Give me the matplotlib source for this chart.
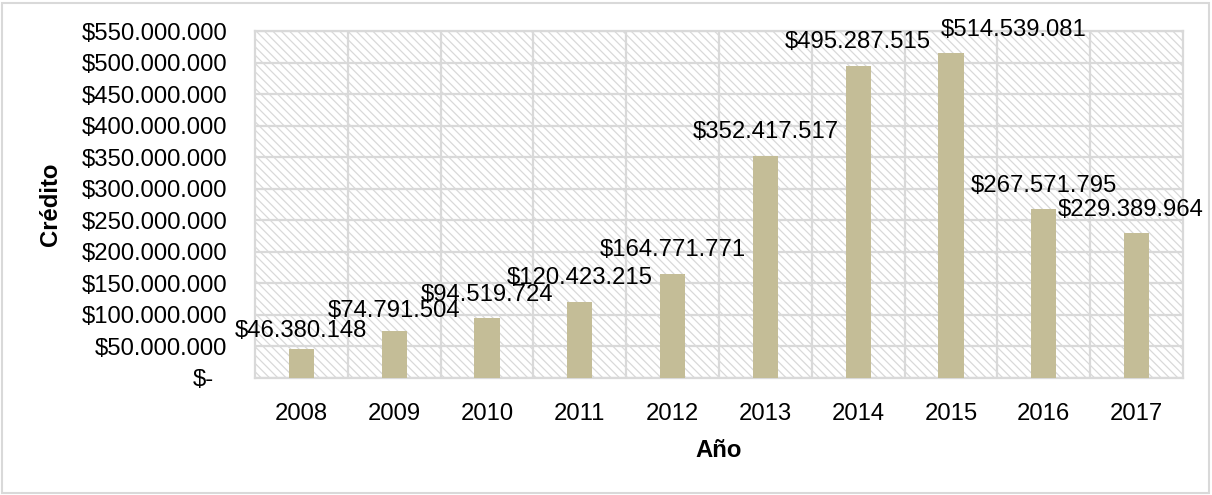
import matplotlib.pyplot as plt
import matplotlib.patches as mpatches
from matplotlib.ticker import FuncFormatter

plt.rcParams['font.family'] = ['Liberation Sans', 'DejaVu Sans']
plt.rcParams['hatch.color'] = '#dcdcdc'
plt.rcParams['hatch.linewidth'] = 0.9

# data
years = ['2008', '2009', '2010', '2011', '2012', '2013', '2014', '2015', '2016', '2017']
credito = [46380148, 74791504, 94519724, 120423215, 164771771,
           352417517, 495287515, 514539081, 267571795, 229389964]
y_ticks = list(range(0, 550000001, 50000000))

# hand-moved data labels in the original (offsets in points)
label_dx = [0, 0, 0, 0, 0, 0, 0, 45, 0, -4]
label_dy = [-4, -3, 0, 0, 0, 0, 0, 0, 0, 0]

grid_col = '#d9d9d9'
bar_col = '#c4bd97'
fs = 17.2


def money(v, pos=None):
    # Excel accounting style: dots as thousands separator, "$-" for zero
    if v == 0:
        return '$-'
    return '$' + '{:,.0f}'.format(v).replace(',', '.')


fig = plt.figure(figsize=(12.12, 4.95), dpi=100)
ax = fig.add_axes([255 / 1212, 1 - 378 / 495, 928 / 1212, 347 / 495])

# hatched plot area background
bg = mpatches.Rectangle((0, 0), 1, 1, transform=ax.transAxes, facecolor='white',
                        edgecolor=grid_col, hatch='\\\\\\\\', linewidth=0, zorder=0)
ax.add_patch(bg)
ax.set_facecolor('white')

xpos = list(range(len(years)))
ax.bar(xpos, credito, width=0.27, color=bar_col, zorder=3)

# data labels, centred about 24 px above each bar
for x, v, dx, dy in zip(xpos, credito, label_dx, label_dy):
    ax.annotate(money(v), (x, v), xytext=(dx, 17 + dy), textcoords='offset points',
                ha='center', va='center', fontsize=fs, zorder=4)

ax.set_xlim(-0.5, len(years) - 0.5)
ax.set_ylim(0, 550000000)
ax.set_yticks(y_ticks)
ax.yaxis.set_major_formatter(FuncFormatter(money))
ax.set_xticks(xpos)
ax.set_xticklabels(years)
ax.set_xticks([i + 0.5 for i in xpos[:-1]], minor=True)

ax.grid(axis='y', which='major', color=grid_col, linewidth=1.6, zorder=1)
ax.grid(axis='x', which='minor', color=grid_col, linewidth=1.6, zorder=1)
ax.set_axisbelow(True)

ax.tick_params(axis='both', which='both', length=0, labelsize=fs)
ax.tick_params(axis='y', pad=20)
ax.tick_params(axis='x', pad=18)
# "$-" sits a bit left of the other amounts, like Excel's accounting format
ax.get_yticklabels()[0].set_x(-13 / 928)
for s in ax.spines.values():
    s.set_color(grid_col)
    s.set_linewidth(1.6)

ax.set_ylabel('Crédito', fontsize=fs, fontweight='bold')
ax.set_xlabel('Año', fontsize=fs, fontweight='bold')
ax.yaxis.set_label_coords(-193 / 928, 0.5)
ax.xaxis.set_label_coords(0.5, -61 / 347)

# chart area border
fig.patches.append(mpatches.Rectangle((2 / 1212, 2 / 495), 1207 / 1212, 490 / 495,
                                      transform=fig.transFigure, fill=False,
                                      edgecolor=grid_col, linewidth=1.5))

fig.savefig('out.png', dpi=100)
